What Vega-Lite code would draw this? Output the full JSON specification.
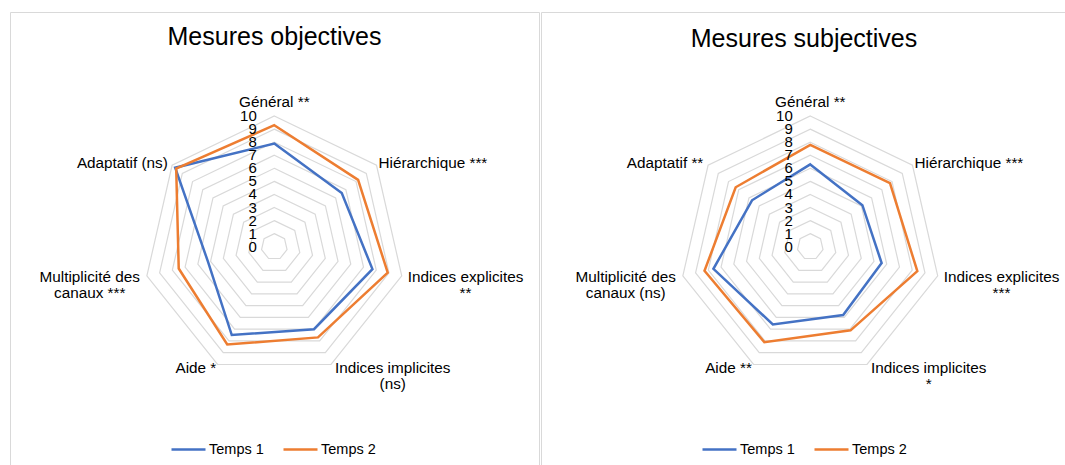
{
  "$schema": "https://vega.github.io/schema/vega-lite/v6.json",
  "padding": {"left": 9, "top": 11, "right": 0, "bottom": 0},
  "spacing": 0,
  "resolve": {"scale": {"color": "independent"}, "legend": {"color": "independent"}},
  "config": {
    "view": {"stroke": "#d9d9d9", "strokeWidth": 1},
    "font": "Liberation Sans",
    "title": {"font": "Liberation Sans", "fontSize": 25, "fontWeight": "normal", "color": "#000000", "anchor": "middle", "baseline": "alphabetic"},
    "text": {"font": "Liberation Sans", "color": "#000000"}
  },
  "datasets": {
    "series": [
      {"panel": "obj", "k": 0, "temps": "Temps 1", "v": 7.9},
      {"panel": "obj", "k": 1, "temps": "Temps 1", "v": 6.6},
      {"panel": "obj", "k": 2, "temps": "Temps 1", "v": 7.7},
      {"panel": "obj", "k": 3, "temps": "Temps 1", "v": 7.0},
      {"panel": "obj", "k": 4, "temps": "Temps 1", "v": 7.5},
      {"panel": "obj", "k": 5, "temps": "Temps 1", "v": 5.2},
      {"panel": "obj", "k": 6, "temps": "Temps 1", "v": 9.7},
      {"panel": "obj", "k": 0, "temps": "Temps 2", "v": 9.3},
      {"panel": "obj", "k": 1, "temps": "Temps 2", "v": 8.2},
      {"panel": "obj", "k": 2, "temps": "Temps 2", "v": 8.9},
      {"panel": "obj", "k": 3, "temps": "Temps 2", "v": 7.7},
      {"panel": "obj", "k": 4, "temps": "Temps 2", "v": 8.3},
      {"panel": "obj", "k": 5, "temps": "Temps 2", "v": 7.5},
      {"panel": "obj", "k": 6, "temps": "Temps 2", "v": 9.6},
      {"panel": "subj", "k": 0, "temps": "Temps 1", "v": 6.3},
      {"panel": "subj", "k": 1, "temps": "Temps 1", "v": 5.1},
      {"panel": "subj", "k": 2, "temps": "Temps 1", "v": 5.6},
      {"panel": "subj", "k": 3, "temps": "Temps 1", "v": 5.8},
      {"panel": "subj", "k": 4, "temps": "Temps 1", "v": 6.6},
      {"panel": "subj", "k": 5, "temps": "Temps 1", "v": 7.6},
      {"panel": "subj", "k": 6, "temps": "Temps 1", "v": 5.7},
      {"panel": "subj", "k": 0, "temps": "Temps 2", "v": 7.8},
      {"panel": "subj", "k": 1, "temps": "Temps 2", "v": 7.8},
      {"panel": "subj", "k": 2, "temps": "Temps 2", "v": 8.4},
      {"panel": "subj", "k": 3, "temps": "Temps 2", "v": 7.1},
      {"panel": "subj", "k": 4, "temps": "Temps 2", "v": 8.1},
      {"panel": "subj", "k": 5, "temps": "Temps 2", "v": 8.3},
      {"panel": "subj", "k": 6, "temps": "Temps 2", "v": 7.3}
    ],
    "rings": [
      {"ring": 1, "k": [0, 1, 2, 3, 4, 5, 6]},
      {"ring": 2, "k": [0, 1, 2, 3, 4, 5, 6]},
      {"ring": 3, "k": [0, 1, 2, 3, 4, 5, 6]},
      {"ring": 4, "k": [0, 1, 2, 3, 4, 5, 6]},
      {"ring": 5, "k": [0, 1, 2, 3, 4, 5, 6]},
      {"ring": 6, "k": [0, 1, 2, 3, 4, 5, 6]},
      {"ring": 7, "k": [0, 1, 2, 3, 4, 5, 6]},
      {"ring": 8, "k": [0, 1, 2, 3, 4, 5, 6]},
      {"ring": 9, "k": [0, 1, 2, 3, 4, 5, 6]},
      {"ring": 10, "k": [0, 1, 2, 3, 4, 5, 6]}
    ],
    "ticks": [
      {"t": 0}, {"t": 1}, {"t": 2}, {"t": 3}, {"t": 4}, {"t": 5},
      {"t": 6}, {"t": 7}, {"t": 8}, {"t": 9}, {"t": 10}
    ],
    "labels": [
      {"panel": "obj", "k": 0, "label": "Général **"},
      {"panel": "obj", "k": 1, "label": "Hiérarchique ***"},
      {"panel": "obj", "k": 2, "label": "Indices explicites\n**"},
      {"panel": "obj", "k": 3, "label": "Indices implicites\n(ns)"},
      {"panel": "obj", "k": 4, "label": "Aide *"},
      {"panel": "obj", "k": 5, "label": "Multiplicité des\ncanaux ***"},
      {"panel": "obj", "k": 6, "label": "Adaptatif (ns)"},
      {"panel": "subj", "k": 0, "label": "Général **"},
      {"panel": "subj", "k": 1, "label": "Hiérarchique ***"},
      {"panel": "subj", "k": 2, "label": "Indices explicites\n***"},
      {"panel": "subj", "k": 3, "label": "Indices implicites\n*"},
      {"panel": "subj", "k": 4, "label": "Aide **"},
      {"panel": "subj", "k": 5, "label": "Multiplicité des\ncanaux (ns)"},
      {"panel": "subj", "k": 6, "label": "Adaptatif **"}
    ]
  },
  "hconcat": [
    {
      "width": 529,
      "height": 453,
      "title": {"text": "Mesures objectives", "offset": -38},
      "layer": [
        {
          "data": {"name": "rings"},
          "transform": [
            {"flatten": ["k"]},
            {"calculate": "datum.ring*sin(datum.k*2*PI/7)", "as": "px"},
            {"calculate": "datum.ring*cos(datum.k*2*PI/7)", "as": "py"}
          ],
          "mark": {"type": "line", "interpolate": "linear-closed", "color": "#d9d9d9", "strokeWidth": 1.2},
          "encoding": {
            "x": {"field": "px", "type": "quantitative", "scale": {"domain": [-20.22, 20.25], "nice": false, "zero": false}, "axis": null},
            "y": {"field": "py", "type": "quantitative", "scale": {"domain": [-16.7, 17.96], "nice": false, "zero": false}, "axis": null},
            "detail": {"field": "ring"},
            "order": {"field": "k"}
          }
        },
        {
          "data": {"name": "series"},
          "transform": [
            {"filter": "datum.panel == 'obj'"},
            {"calculate": "datum.v*sin(datum.k*2*PI/7)", "as": "px"},
            {"calculate": "datum.v*cos(datum.k*2*PI/7)", "as": "py"}
          ],
          "mark": {"type": "line", "interpolate": "linear-closed", "strokeWidth": 2.5},
          "encoding": {
            "x": {"field": "px", "type": "quantitative"},
            "y": {"field": "py", "type": "quantitative"},
            "color": {
              "field": "temps", "type": "nominal",
              "scale": {"domain": ["Temps 1", "Temps 2"], "range": ["#4472C4", "#ED7D31"]},
              "legend": {"orient": "none", "legendX": 160, "legendY": 419, "direction": "horizontal", "title": null, "symbolType": "stroke", "symbolSize": 1156, "symbolStrokeWidth": 2.5, "labelFontSize": 14.5, "labelFont": "Liberation Sans", "labelColor": "#000000", "columnPadding": 14, "labelOffset": 2}
            },
            "order": {"field": "k"}
          }
        },
        {
          "data": {"name": "ticks"},
          "mark": {"type": "text", "align": "right", "baseline": "middle", "dx": -17.5, "fontSize": 15},
          "encoding": {
            "x": {"datum": 0, "type": "quantitative"},
            "y": {"field": "t", "type": "quantitative"},
            "text": {"field": "t"}
          }
        },
        {
          "data": {"name": "labels"},
          "transform": [
            {"filter": "datum.panel == 'obj'"},
            {"calculate": "sin(datum.k*2*PI/7)", "as": "s"},
            {"calculate": "cos(datum.k*2*PI/7)", "as": "c"},
            {"calculate": "max(length(split(datum.label,'\\n')[0]), length(split(datum.label,'\\n')[1] || ''))", "as": "w"},
            {"calculate": "10.3*datum.s + (abs(datum.s) < 0.1 ? 0 : (datum.s > 0 ? 1 : -1))*datum.w*0.255", "as": "px"},
            {"calculate": "10.3*datum.c + (datum.c > 0.99 ? 0.75 : 0)", "as": "py"}
          ],
          "mark": {"type": "text", "align": "center", "baseline": "middle", "fontSize": 15.3, "lineBreak": "\n", "lineHeight": 16},
          "encoding": {
            "x": {"field": "px", "type": "quantitative"},
            "y": {"field": "py", "type": "quantitative"},
            "text": {"field": "label"}
          }
        }
      ]
    },
    {
      "width": 526,
      "height": 453,
      "title": {"text": "Mesures subjectives", "offset": -40},
      "layer": [
        {
          "data": {"name": "rings"},
          "transform": [
            {"flatten": ["k"]},
            {"calculate": "datum.ring*sin(datum.k*2*PI/7)", "as": "px"},
            {"calculate": "datum.ring*cos(datum.k*2*PI/7)", "as": "py"}
          ],
          "mark": {"type": "line", "interpolate": "linear-closed", "color": "#d9d9d9", "strokeWidth": 1.2},
          "encoding": {
            "x": {"field": "px", "type": "quantitative", "scale": {"domain": [-20.6, 19.64], "nice": false, "zero": false}, "axis": null},
            "y": {"field": "py", "type": "quantitative", "scale": {"domain": [-16.7, 17.96], "nice": false, "zero": false}, "axis": null},
            "detail": {"field": "ring"},
            "order": {"field": "k"}
          }
        },
        {
          "data": {"name": "series"},
          "transform": [
            {"filter": "datum.panel == 'subj'"},
            {"calculate": "datum.v*sin(datum.k*2*PI/7)", "as": "px"},
            {"calculate": "datum.v*cos(datum.k*2*PI/7)", "as": "py"}
          ],
          "mark": {"type": "line", "interpolate": "linear-closed", "strokeWidth": 2.5},
          "encoding": {
            "x": {"field": "px", "type": "quantitative"},
            "y": {"field": "py", "type": "quantitative"},
            "color": {
              "field": "temps", "type": "nominal",
              "scale": {"domain": ["Temps 1", "Temps 2"], "range": ["#4472C4", "#ED7D31"]},
              "legend": {"orient": "none", "legendX": 160, "legendY": 419, "direction": "horizontal", "title": null, "symbolType": "stroke", "symbolSize": 1156, "symbolStrokeWidth": 2.5, "labelFontSize": 14.5, "labelFont": "Liberation Sans", "labelColor": "#000000", "columnPadding": 14, "labelOffset": 2}
            },
            "order": {"field": "k"}
          }
        },
        {
          "data": {"name": "ticks"},
          "mark": {"type": "text", "align": "right", "baseline": "middle", "dx": -17.5, "fontSize": 15},
          "encoding": {
            "x": {"datum": 0, "type": "quantitative"},
            "y": {"field": "t", "type": "quantitative"},
            "text": {"field": "t"}
          }
        },
        {
          "data": {"name": "labels"},
          "transform": [
            {"filter": "datum.panel == 'subj'"},
            {"calculate": "sin(datum.k*2*PI/7)", "as": "s"},
            {"calculate": "cos(datum.k*2*PI/7)", "as": "c"},
            {"calculate": "max(length(split(datum.label,'\\n')[0]), length(split(datum.label,'\\n')[1] || ''))", "as": "w"},
            {"calculate": "10.3*datum.s + (abs(datum.s) < 0.1 ? 0 : (datum.s > 0 ? 1 : -1))*datum.w*0.255", "as": "px"},
            {"calculate": "10.3*datum.c + (datum.c > 0.99 ? 0.75 : 0)", "as": "py"}
          ],
          "mark": {"type": "text", "align": "center", "baseline": "middle", "fontSize": 15.3, "lineBreak": "\n", "lineHeight": 16},
          "encoding": {
            "x": {"field": "px", "type": "quantitative"},
            "y": {"field": "py", "type": "quantitative"},
            "text": {"field": "label"}
          }
        }
      ]
    }
  ]
}
